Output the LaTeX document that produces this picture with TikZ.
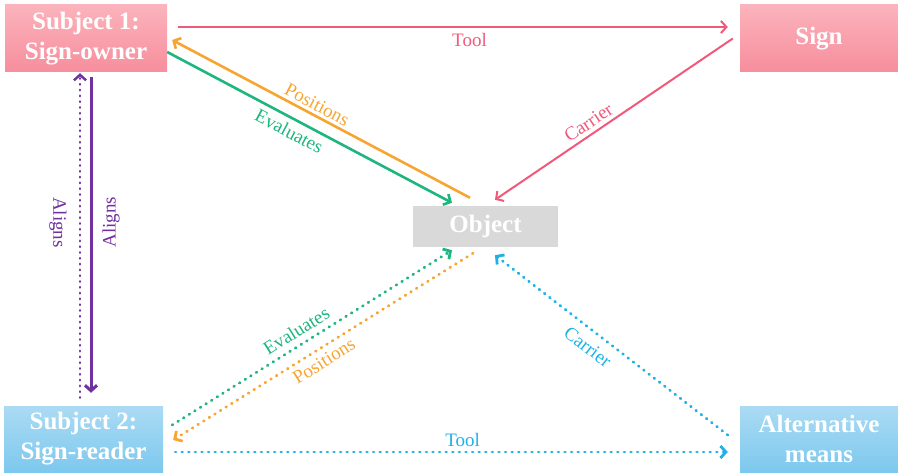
\documentclass[tikz,border=0pt]{standalone}
\usepackage{fontspec}
\setmainfont{Liberation Serif}
\usetikzlibrary{arrows.meta}

\definecolor{signpink}{HTML}{F2587A}
\definecolor{pinktop}{HTML}{FBB3BC}
\definecolor{pinkbot}{HTML}{F78E9D}
\definecolor{bluetop}{HTML}{ABDBF4}
\definecolor{bluebot}{HTML}{7DC8EE}
\definecolor{objgray}{HTML}{D9D9D9}
\definecolor{posorange}{HTML}{F7A531}
\definecolor{evalgreen}{HTML}{1DB67E}
\definecolor{alpurple}{HTML}{7030A0}
\definecolor{altblue}{HTML}{1FB1E6}

\begin{document}
\begin{tikzpicture}[x=1pt,y=1pt,
  box/.style={minimum width=#1, inner sep=0pt, align=center, text=white,
    font=\fontsize{25}{30}\selectfont\bfseries},
  pinkbox/.style={box=#1, top color=pinktop, bottom color=pinkbot},
  bluebox/.style={box=#1, top color=bluetop, bottom color=bluebot},
  lbl/.style={font=\fontsize{19}{22}\selectfont, inner sep=2pt},
  tip/.style={-{Straight Barb[length=5.5pt,width=12pt]}},
  dotline/.style={line width=2.8pt, line cap=round, dash pattern=on 0.8pt off 5.8pt}]

\useasboundingbox (0,0) rectangle (898,472);
%\draw (0,0) rectangle (898,472);

 \node[pinkbox=162, minimum height=67] (s1) at (86,433.5) {Subject 1:\\Sign-owner};
 \node[pinkbox=158, minimum height=67] (sign) at (819,433.5) {Sign};
 \node[box=145, minimum height=41, fill=objgray] (obj) at (485.5,245.5) {Object};
 \node[bluebox=159, minimum height=66] (s2) at (83.5,33) {Subject 2:\\Sign-reader};
 \node[bluebox=158, minimum height=66] (alt) at (819,33) {Alternative\\means};

 % sign-owner triangle
 \draw[tip, signpink, line width=2pt] ([shift={(11,11.5)}]s1.east) -- ([shift={(-12,11.5)}]sign.west)
     node[lbl, below=3pt, pos=.53] {Tool};
 \draw[tip, signpink, line width=2pt] ([xshift=-7]sign.west) -- ([shift={(9.5,6)}]obj.north)
     node[lbl, sloped, above=2pt, pos=.58] {Carrier};
 \draw[tip, posorange, line width=2.6pt] ([shift={(-15.5,8)}]obj.north) -- ([shift={(5,-1.5)}]s1.east)
     node[lbl, sloped, above=1pt, pos=.53] {Positions};
 \draw[tip, evalgreen, line width=2.6pt] ([yshift=-13.5]s1.east) -- ([shift={(-33.5,3)}]obj.north)
     node[lbl, sloped, below=3pt, pos=.45] {Evaluates};

 % sign-reader triangle
 \draw[tip, dotline, evalgreen] ([shift={(9,14)}]s2.east) -- ([shift={(-33.5,-3)}]obj.south)
     node[lbl, sloped, above=4pt, pos=.47] {Evaluates};
 \draw[tip, dotline, posorange] ([shift={(-12.5,-6)}]obj.south) -- ([shift={(10,-1)}]s2.east)
     node[lbl, sloped, below=3pt, pos=.52] {Positions};
 \draw[tip, dotline, altblue] ([shift={(-12,4)}]alt.west) -- ([shift={(9.5,-8)}]obj.south)
     node[lbl, sloped, below=6pt, pos=.56] {Carrier};
 \draw[tip, dotline, altblue] ([shift={(12,-13)}]s2.east) -- ([shift={(-12,-13)}]alt.west)
     node[lbl, above=2pt, pos=.52] {Tool};

 % aligns
 \draw[tip, alpurple, line width=3pt] ([shift={(5,-5)}]s1.south) -- ([shift={(7.5,13)}]s2.north)
     node[lbl, pos=.46, xshift=20pt, rotate=90] {Aligns};
 \draw[tip, dotline, alpurple, line width=2.4pt, dash pattern=on 0.6pt off 5.2pt] ([shift={(-3.5,8)}]s2.north) -- ([shift={(-6,-1)}]s1.south)
     node[lbl, pos=.54, xshift=-22pt, rotate=-90] {Aligns};

\end{tikzpicture}
\end{document}
